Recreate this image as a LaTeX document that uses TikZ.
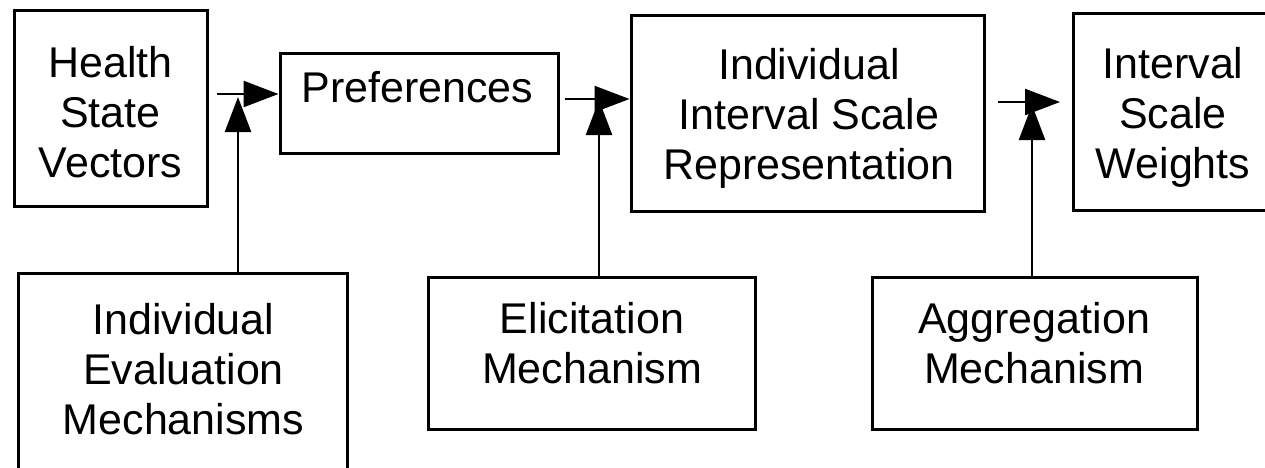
\documentclass[tikz,border=0pt]{standalone}
\usepackage{fontspec}
\setmainfont{Liberation Sans}
\usetikzlibrary{arrows.meta,calc}
\begin{document}
\begin{tikzpicture}[x=1pt,y=-1pt,
  box/.style={draw=black,line width=3pt,rectangle,inner sep=0pt},
  txt/.style={align=center,inner sep=0pt,font=\fontsize{43}{50}\selectfont},
  arr/.style={draw=black,line width=2.4pt,-{Triangle[length=35pt,width=26pt]}}]
\clip (0,0) rectangle (1265,467);
\fill[white] (0,0) rectangle (1265,467);
% boxes
\node[box,minimum width=193pt,minimum height=196pt] (hsv) at (110.5,108) {};
\node[box,minimum width=278pt,minimum height=100pt] (pref) at (419,103) {};
\node[box,minimum width=353pt,minimum height=196pt] (iisr) at (807.5,113) {};
\node[box,minimum width=207pt,minimum height=197pt] (isw) at (1176.5,111.5) {};
\node[box,minimum width=329pt,minimum height=207pt] (iem) at (182.5,376.5) {};
\node[box,minimum width=327pt,minimum height=152pt] (eli) at (591.5,353) {};
\node[box,minimum width=325pt,minimum height=152pt] (agg) at (1034.5,353) {};
% texts
\node[txt] (hsvt) at (110.5,112) {Health\\State\\Vectors};
\node[txt] (preft) at (417.5,87.5) {Preferences};
\node[txt] (iisrt) at (809,118) {Individual\\Interval Scale\\Representation};
\node[txt] (iswt) at (1173,117) {Interval\\Scale\\Weights};
\node[txt] (iemt) at (183.5,369.5) {Individual\\Evaluation\\Mechanisms};
\node[txt] (elit) at (592,343.5) {Elicitation\\Mechanism};
\node[txt] (aggt) at (1034,343.5) {Aggregation\\Mechanism};
% connector coordinates
\coordinate (h1) at (217,94);
\coordinate (h2) at (565,99);
\coordinate (h3) at (998,102);
\coordinate (c3) at (1060,102);
\coordinate (j1) at (238,97);
\coordinate (j2) at (599,100);
\coordinate (j3) at (1032,105);
% connectors
\draw[arr] (h1) -- (h1 -| pref.west);
\draw[arr] (h2) -- (h2 -| iisr.west);
\draw[arr] (h3) -- (c3);
\draw[arr] (j1 |- iem.north) -- (j1);
\draw[arr] (j2 |- eli.north) -- (j2);
\draw[arr] (j3 |- agg.north) -- (j3);
\end{tikzpicture}
\end{document}
